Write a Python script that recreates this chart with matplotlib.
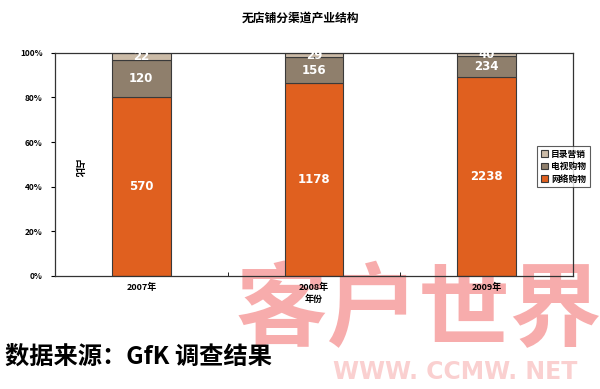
import matplotlib
matplotlib.use("Agg")
import matplotlib.pyplot as plt
import numpy as np

plt.rcParams['font.family'] = ['Noto Sans CJK SC', 'DejaVu Sans']

years = ['2007年', '2008年', '2009年']
online = [570, 1178, 2238]
tv = [120, 156, 234]
catalog = [22, 29, 40]
series_names = ['网络购物', '电视购物', '目录营销']
colors = ['#E0601F', '#8F7F6C', '#CBBBA7']

fig = plt.figure(figsize=(6.0, 3.89), dpi=100)
ax = fig.add_axes([0.0917, 0.2905, 0.8633, 0.574])
ax.patch.set_alpha(0)

totals = np.array(online) + np.array(tv) + np.array(catalog)
x = np.arange(len(years))
width = 0.34
bottom = np.zeros(len(years))
handles = []
for vals, col, name in zip([online, tv, catalog], colors, series_names):
    frac = np.array(vals) / totals
    b = ax.bar(x, frac, width, bottom=bottom, color=col, edgecolor='#3a3a3a',
               linewidth=0.8, label=name, zorder=2)
    handles.append(b)
    for xi, fi, bi, v in zip(x, frac, bottom, vals):
        ax.text(xi, bi + fi / 2, str(v), ha='center', va='center', color='white',
                fontsize=8.5, fontweight='bold', family='DejaVu Sans', zorder=3)
    bottom += frac

ax.set_xlim(-0.5, 2.5)
ax.set_ylim(0, 1)
ax.set_yticks(np.linspace(0, 1, 6))
ax.set_yticklabels([f'{int(v)}%' for v in np.linspace(0, 100, 6)], fontsize=6, fontweight='bold')
ax.set_xticks(x)
ax.set_xticklabels(years, fontsize=6.5, fontweight='bold')
ax.tick_params(axis='x', length=0, pad=5)
ax.set_xticks([0.5, 1.5], minor=True)
ax.tick_params(axis='x', which='minor', length=3, direction='in')
ax.tick_params(axis='y', length=3, pad=6)
for s in ax.spines.values():
    s.set_color('#333333')
    s.set_linewidth(0.9)
ax.set_xlabel('年份', fontsize=6.5, fontweight='bold', labelpad=2)
ax.text(0.045, 0.48, '占比', rotation=-90, transform=ax.transAxes, ha='center', va='center',
        fontsize=7, fontweight='bold')

fig.text(0.5, 0.953, '无店铺分渠道产业结构', ha='center', va='center', fontsize=8.5, fontweight='bold')

leg = fig.legend(handles=handles[::-1], labels=series_names[::-1], loc='upper left',
                 bbox_to_anchor=(0.887, 0.637), fontsize=6, frameon=True, fancybox=False,
                 edgecolor='#333333', handlelength=0.8, handleheight=0.8, handletextpad=0.4,
                 borderpad=0.45, labelspacing=0.4, prop={'weight': 'bold', 'size': 6.3})
leg.get_frame().set_linewidth(0.8)

fig.text(0.008, 0.08, '数据来源：GfK 调查结果', fontsize=17.5, fontweight='bold', ha='left', va='center')

fig.text(0.698, 0.198, '客户世界', fontsize=66, fontweight='bold', color='#F7A3A3', alpha=0.9,
         ha='center', va='center', zorder=-1)
fig.text(0.758, 0.044, 'WWW. CCMW. NET', fontsize=17, fontweight='bold', color='#FAD0D0',
         family='DejaVu Sans', ha='center', va='center', zorder=-1)

fig.savefig('out.png', dpi=100)
